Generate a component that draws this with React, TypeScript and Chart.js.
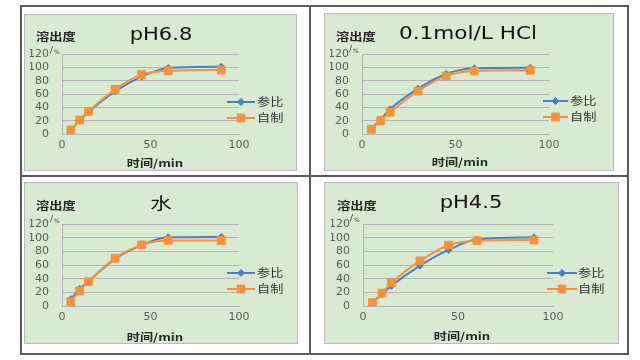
import React, { useEffect, useRef } from "react";
import { Chart, registerables } from "chart.js";
import { drawPoint } from "chart.js/helpers";

Chart.register(...registerables);

// ---------- data ----------
const times = [5, 10, 15, 30, 45, 60, 90];
const xTickValues = [0, 50, 100];
const yTickValues = [0, 20, 40, 60, 80, 100, 120];
const seriesNames = ["参比", "自制"];
const chartTitles = ["pH6.8", "0.1mol/L HCl", "水", "pH4.5"];
const yAxisCaption = "溶出度";
const yAxisUnit = "/";
const yAxisUnitPct = "%";
const xAxisCaption = "时间/min";

const refPH68 = [6, 20, 33, 64, 86, 99, 101];
const selfPH68 = [6, 21, 34, 67, 89, 95, 96];
const refHCl = [8, 22, 37, 68, 90, 98.5, 99.5];
const selfHCl = [7, 20, 32.5, 64.5, 87, 94.5, 95.5];
const refWater = [10, 25, 36, 69, 89, 100.5, 101];
const selfWater = [6, 22, 35.5, 70, 89.5, 96, 96];
const refPH45 = [4, 17, 29.5, 59, 82, 97.5, 100.5];
const selfPH45 = [5, 19, 34, 66, 89, 95.5, 96.5];

// ---------- style ----------
const BLUE = "#4A7EC8";
const ORANGE = "#F7923A";
const GRID = "#b4b4b4";
const TICK = "#595959";
const BOX_BG = "#d9ead3";
const RULE = "#5a5a5a";
const Y_W = 32;
const X_H = 20;

type Layout = {
  box: { left: number; top: number; w: number; h: number };
  ca: { l: number; r: number; t: number; b: number };
  titleX: number; titleY: number; titleSize: number; titleSx: number; titleFamily: string;
  yCapX: number; yCapY: number;
  slashX: number; slashY: number;
  xCapX: number; xCapY: number;
  legX0: number; legX1: number; legTextX: number; legY: number[];
};

const layouts: Layout[] = [
  {
    box: { left: 24, top: 14, w: 273, h: 157 },
    ca: { l: 38, r: 215, t: 40, b: 120 },
    titleX: 137, titleY: 21, titleSize: 18, titleSx: 1.17, titleFamily: "'DejaVu Sans', sans-serif",
    yCapX: 12, yCapY: 23, slashX: 26, slashY: 37,
    xCapX: 131, xCapY: 149,
    legX0: 203, legX1: 231, legTextX: 233, legY: [88, 104],
  },
  {
    box: { left: 324, top: 13, w: 290, h: 158 },
    ca: { l: 38, r: 225, t: 41, b: 121 },
    titleX: 144, titleY: 21, titleSize: 18, titleSx: 1.2, titleFamily: "'DejaVu Sans', sans-serif",
    yCapX: 12, yCapY: 24, slashX: 25, slashY: 37,
    xCapX: 136, xCapY: 149,
    legX0: 219, legX1: 244, legTextX: 246, legY: [88, 104],
  },
  {
    box: { left: 24, top: 182, w: 274, h: 162 },
    ca: { l: 38, r: 215, t: 42, b: 124 },
    titleX: 137, titleY: 21, titleSize: 16, titleSx: 1.35, titleFamily: "'Noto Sans CJK SC', sans-serif",
    yCapX: 12, yCapY: 24, slashX: 26, slashY: 38,
    xCapX: 131, xCapY: 155,
    legX0: 203, legX1: 231, legTextX: 233, legY: [91, 107],
  },
  {
    box: { left: 324, top: 182, w: 295, h: 162 },
    ca: { l: 39, r: 229, t: 42, b: 124 },
    titleX: 147, titleY: 21, titleSize: 18, titleSx: 1.17, titleFamily: "'DejaVu Sans', sans-serif",
    yCapX: 13, yCapY: 24, slashX: 26, slashY: 37,
    xCapX: 138, xCapY: 154,
    legX0: 223, legX1: 253, legTextX: 254, legY: [91, 107],
  },
];

const panelData = [
  { title: chartTitles[0], ref: refPH68, self: selfPH68 },
  { title: chartTitles[1], ref: refHCl, self: selfHCl },
  { title: chartTitles[2], ref: refWater, self: selfWater },
  { title: chartTitles[3], ref: refPH45, self: selfPH45 },
];

function drawText(
  ctx: CanvasRenderingContext2D, text: string, x: number, y: number,
  font: string, color: string, sx: number, align: CanvasTextAlign
) {
  ctx.save();
  ctx.translate(x, y);
  ctx.scale(sx, 1);
  ctx.font = font;
  ctx.fillStyle = color;
  ctx.textAlign = align;
  ctx.textBaseline = "middle";
  ctx.fillText(text, 0, 0);
  ctx.restore();
}

function Panel({ idx }: { idx: number }) {
  const canvasRef = useRef<HTMLCanvasElement | null>(null);
  const L = layouts[idx];
  const D = panelData[idx];

  useEffect(() => {
    if (!canvasRef.current) return;
    const cjk = "'Noto Sans CJK SC', sans-serif";
    const textPlugin = {
      id: "panelText" + idx,
      afterDraw(chart: any) {
        const ctx = chart.ctx as CanvasRenderingContext2D;
        drawText(ctx, D.title, L.titleX, L.titleY, `${L.titleSize}px ${L.titleFamily}`, "#111111", L.titleSx, "center");
        drawText(ctx, yAxisCaption, L.yCapX, L.yCapY, `bold 11px ${cjk}`, "#262626", 1.2, "left");
        drawText(ctx, yAxisUnit, L.slashX, L.slashY, `9px 'DejaVu Sans', sans-serif`, "#404040", 1, "left");
        drawText(ctx, yAxisUnitPct, L.slashX + 4, L.slashY + 1, `6px 'DejaVu Sans', sans-serif`, "#404040", 1, "left");
        drawText(ctx, xAxisCaption, L.xCapX, L.xCapY, `bold 10.5px ${cjk}`, "#262626", 1.25, "center");
        // legend
        chart.data.datasets.forEach((ds: any, i: number) => {
          const y = L.legY[i];
          ctx.save();
          ctx.strokeStyle = ds.borderColor;
          ctx.lineWidth = 2;
          ctx.beginPath();
          ctx.moveTo(L.legX0, y);
          ctx.lineTo(L.legX1, y);
          ctx.stroke();
          ctx.fillStyle = ds.backgroundColor;
          ctx.strokeStyle = ds.borderColor;
          ctx.lineWidth = 1;
          drawPoint(ctx, { pointStyle: ds.pointStyle, rotation: 0, radius: ds.pointRadius, borderWidth: 1 } as any,
            (L.legX0 + L.legX1) / 2, y);
          ctx.restore();
          drawText(ctx, ds.label, L.legTextX, y, `11px ${cjk}`, "#333333", 1.2, "left");
        });
      },
    };

    const tickFont = { family: "'DejaVu Sans', sans-serif", size: 11 };
    const chart = new Chart(canvasRef.current, {
      type: "line",
      data: {
        datasets: [
          {
            label: seriesNames[0],
            data: times.map((t, i) => ({ x: t, y: D.ref[i] })),
            borderColor: BLUE,
            backgroundColor: BLUE,
            borderWidth: 2,
            pointStyle: "rectRot",
            pointRadius: 3.5,
            pointBorderWidth: 1,
            cubicInterpolationMode: "monotone",
            order: 1,
          },
          {
            label: seriesNames[1],
            data: times.map((t, i) => ({ x: t, y: D.self[i] })),
            borderColor: ORANGE,
            backgroundColor: ORANGE,
            borderWidth: 2,
            pointStyle: "rect",
            pointRadius: 5.5,
            pointBorderWidth: 1,
            cubicInterpolationMode: "monotone",
            order: 0,
          },
        ],
      },
      options: {
        animation: false,
        responsive: false,
        events: [],
        layout: {
          padding: {
            left: L.ca.l - Y_W,
            top: L.ca.t,
            right: L.box.w - L.ca.r,
            bottom: L.box.h - L.ca.b - X_H,
          },
        },
        plugins: {
          legend: { display: false },
          title: { display: false },
          tooltip: { enabled: false },
        },
        scales: {
          x: {
            type: "linear",
            min: 0,
            max: 100,
            afterBuildTicks: (s: any) => { s.ticks = xTickValues.map((v) => ({ value: v })); },
            afterFit: (s: any) => { s.height = X_H; },
            grid: { display: false, drawTicks: false },
            border: { display: true, color: GRID, width: 1 },
            ticks: { padding: 5, color: TICK, font: tickFont, autoSkip: false, maxRotation: 0 },
          },
          y: {
            type: "linear",
            min: 0,
            max: 120,
            afterBuildTicks: (s: any) => { s.ticks = yTickValues.map((v) => ({ value: v })); },
            afterFit: (s: any) => { s.width = Y_W; },
            grid: { color: GRID, drawTicks: false, lineWidth: 1 },
            border: { display: true, color: GRID, width: 1 },
            ticks: { padding: 13, color: TICK, font: tickFont, autoSkip: false },
          },
        },
      } as any,
      plugins: [textPlugin],
    });
    return () => chart.destroy();
  }, [idx]);

  return (
    <>
      <div
        style={{
          position: "absolute",
          left: L.box.left,
          top: L.box.top,
          width: L.box.w,
          height: L.box.h,
          boxSizing: "border-box",
          background: BOX_BG,
          border: "1px solid #b9b9b9",
        }}
      />
      <canvas
        ref={canvasRef}
        width={L.box.w}
        height={L.box.h}
        style={{ position: "absolute", left: L.box.left, top: L.box.top, width: L.box.w, height: L.box.h }}
      />
    </>
  );
}

function Rule({ x, y, w, h }: { x: number; y: number; w: number; h: number }) {
  return <div style={{ position: "absolute", left: x, top: y, width: w, height: h, background: RULE }} />;
}

export default function App() {
  return (
    <div style={{ position: "absolute", left: 0, top: 0, width: 640, height: 360, background: "#ffffff", overflow: "hidden" }}>
      <Rule x={20} y={5} w={609} h={2} />
      <Rule x={20} y={175} w={609} h={2} />
      <Rule x={20} y={353} w={609} h={2} />
      <Rule x={20} y={5} w={2} h={350} />
      <Rule x={309} y={5} w={2} h={350} />
      <Rule x={627} y={5} w={2} h={350} />
      {[0, 1, 2, 3].map((i) => (
        <Panel key={i} idx={i} />
      ))}
    </div>
  );
}
